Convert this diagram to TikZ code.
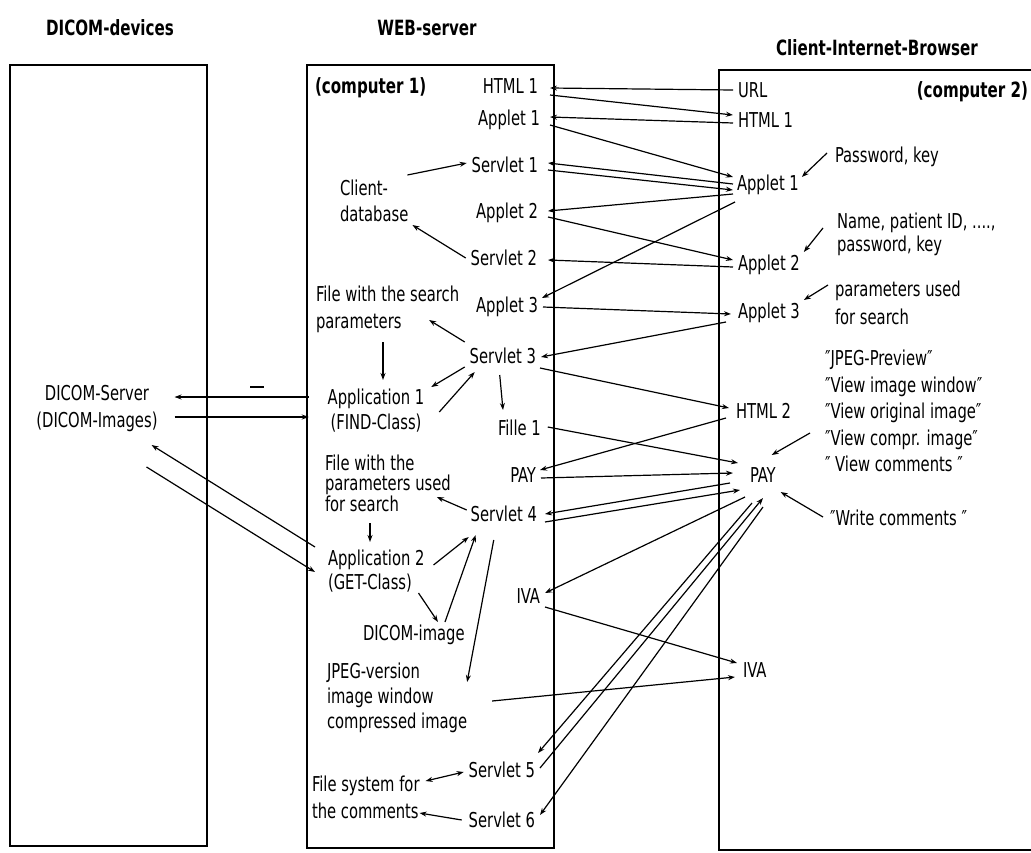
\documentclass[tikz,border=0pt]{standalone}
\usepackage{fontspec}
\setmainfont{DejaVu Sans Condensed}[FakeStretch=0.80, BoldFont={DejaVu Sans Condensed Bold}]
\usetikzlibrary{arrows.meta}

\begin{document}
\begin{tikzpicture}[x=1pt, y=-1pt,
  lbl/.style={inner sep=0pt, outer sep=0pt, font=\fontsize{20.5}{26}\selectfont, text height=14.5pt, text depth=4.5pt},
  blk/.style={inner sep=0pt, outer sep=0pt, align=left},
  ttl/.style={inner sep=0pt, outer sep=0pt, font=\bfseries\fontsize{21}{24}\selectfont},
  arr/.style={-{Stealth[length=7pt,width=5pt]}, line width=1.2pt},
  arrboth/.style={{Stealth[length=7pt,width=5pt]}-{Stealth[length=7pt,width=5pt]}, line width=1.2pt},
  frame/.style={line width=1.6pt}]

\clip (0,0) rectangle (1031,852);
\fill[white] (0,0) rectangle (1031,852);

% the three machines
\draw[frame] (10,65) rectangle (207,846);
\draw[frame] (307,65) rectangle (554,848);
\draw[frame] (1040,70) -- (719,70) -- (719,850) -- (1040,850);

% column titles
\node[ttl] (tdev) at (110,28) {DICOM-devices};
\node[ttl] (tweb) at (427,28) {WEB-server};
\node[ttl] (tcli) at (877,48) {Client-Internet-Browser};
\node[ttl, anchor=west] (comp1) at (315,88) {(computer 1)};
\node[ttl, anchor=east] (comp2) at (1028,92) {(computer 2)};

% DICOM devices
\node[blk, align=center, font=\fontsize{20.5}{27}\selectfont] (dicomsrv) at (97,409) {DICOM-Server\\(DICOM-Images)};

% web server
\node[lbl, anchor=east] (html1m) at (538,88) {HTML 1};
\node[lbl, anchor=east] (applet1m) at (540,120) {Applet 1};
\node[lbl, anchor=east] (servlet1) at (538,167) {Servlet 1};
\node[blk, anchor=west, font=\fontsize{20.5}{26}\selectfont] (clientdb) at (340,201) {Client-\\database};
\node[lbl, anchor=east] (applet2m) at (538,213) {Applet 2};
\node[lbl, anchor=east] (servlet2) at (537,260) {Servlet 2};
\node[blk, anchor=west, font=\fontsize{20.5}{27}\selectfont] (filesearch) at (316,309) {File with the search\\parameters};
\node[lbl, anchor=east] (applet3m) at (538,307) {Applet 3};
\node[lbl, anchor=east] (servlet3) at (536,358) {Servlet 3};
\node[blk, align=center, font=\fontsize{20.5}{25}\selectfont] (app1) at (376,411) {Application 1\\(FIND-Class)};
\node[lbl, anchor=west] (fille1) at (498,430) {Fille 1};
\node[lbl, anchor=east] (paym) at (536,477) {PAY};
\node[blk, anchor=west, font=\fontsize{20.5}{20.5}\selectfont] (fileparams) at (325,483) {File with the\\parameters used\\for search};
\node[lbl, anchor=east] (servlet4) at (537,516) {Servlet 4};
\node[blk, anchor=west, font=\fontsize{20.5}{24}\selectfont] (app2) at (328,571) {Application 2\\(GET-Class)};
\node[lbl, anchor=east] (ivam) at (540,598) {IVA};
\node[lbl, anchor=west] (dicomimg) at (363,635) {DICOM-image};
\node[blk, anchor=west, font=\fontsize{20.5}{25}\selectfont] (jpeg) at (327,698) {JPEG-version\\image window\\compressed image};
\node[lbl, anchor=east] (servlet5) at (535,772) {Servlet 5};
\node[blk, anchor=west, font=\fontsize{20.5}{27}\selectfont] (filesys) at (312,797) {File system for\\the comments};
\node[lbl, anchor=east] (servlet6) at (535,822) {Servlet 6};

% client browser
\node[lbl, anchor=west] (url) at (738,92) {URL};
\node[lbl, anchor=west] (html1r) at (738,122) {HTML 1};
\node[lbl, anchor=west] (applet1r) at (737,185) {Applet 1};
\node[lbl, anchor=west] (applet2r) at (738,265) {Applet 2};
\node[lbl, anchor=west] (applet3r) at (738,313) {Applet 3};
\node[lbl, anchor=west] (html2) at (736,413) {HTML 2};
\node[lbl, anchor=west] (payr) at (750,477) {PAY};
\node[lbl, anchor=west] (ivar) at (743,672) {IVA};
\node[lbl, anchor=west] (pwd) at (835,157) {Password, key};
\node[blk, anchor=west, font=\fontsize{20.5}{23}\selectfont] (nameid) at (837,234) {Name, patient ID, ....,\\password, key};
\node[blk, anchor=west, font=\fontsize{20.5}{28}\selectfont] (params) at (835,303) {parameters used\\for search};
\node[blk, anchor=west, font=\fontsize{20.5}{26.5}\selectfont] (views) at (825,411) {″JPEG-Preview″\\″View image window″\\″View original image″\\″View compr. image″\\″ View comments ″};
\node[lbl, anchor=west] (writec) at (830,520) {″Write comments ″};

% small tick between the DICOM server arrows
\draw[line width=1.2pt] (250,387) -- (264,387);

% server <-> browser traffic
\draw[arr] ([shift={(-5,-2)}]url.west) -- ([shift={(12,0)}]html1m.east);
\draw[arr] ([shift={(12,7)}]html1m.east) -- ([shift={(-5,-7)}]html1r.west);
\draw[arr] ([shift={(-5,1)}]html1r.west) -- ([shift={(10,-3)}]applet1m.east);
\draw[arr] ([shift={(10,5)}]applet1m.east) -- ([shift={(-4,-8)}]applet1r.west);
\draw[arr] ([shift={(-4,-1)}]applet1r.west) -- ([shift={(10,-4)}]servlet1.east);
\draw[arr] ([shift={(10,3)}]servlet1.east) -- ([shift={(-4,5)}]applet1r.west);
\draw[arr] ([shift={(-4,9)}]applet1r.west) -- ([shift={(10,-2)}]applet2m.east);
\draw[arr] ([shift={(10,4)}]applet2m.east) -- ([shift={(-5,-5)}]applet2r.west);
\draw[arr] ([shift={(-5,2)}]applet2r.west) -- ([shift={(11,0)}]servlet2.east);
\draw[arr] ([shift={(-2,17)}]applet1r.west) -- ([shift={(4,-9)}]applet3m.east);
\draw[arr] ([shift={(5,0)}]applet3m.east) -- ([shift={(-7,1)}]applet3r.west);
\draw[arr] ([shift={(-12,9)}]applet3r.west) -- ([shift={(5,-1)}]servlet3.east);
\draw[arr] ([shift={(4,10)}]servlet3.east) -- ([shift={(-7,-5)}]html2.west);
\draw[arr] ([shift={(-10,5)}]html2.west) -- ([shift={(4,-7)}]paym.east);
\draw[arr] ([shift={(7,-3)}]fille1.east) -- ([shift={(-12,-14)}]payr.west);
\draw[arr] ([shift={(5,1)}]paym.east) -- ([shift={(-17,-4)}]payr.west);
\draw[arr] ([shift={(-20,6)}]payr.west) -- ([shift={(8,-2)}]servlet4.east);
\draw[arr] ([shift={(8,6)}]servlet4.east) -- ([shift={(-10,13)}]payr.west);
\draw[arr] ([shift={(-5,20)}]payr.west) -- ([shift={(5,-5)}]ivam.east);
\draw[arr] ([shift={(5,9)}]ivam.east) -- ([shift={(-6,-9)}]ivar.west);
\draw[arr] ([shift={(25,3)}]jpeg.east) -- ([shift={(-8,5)}]ivar.west);
\draw[arr] ([shift={(2,26)}]payr.west) -- ([shift={(3,-19)}]servlet5.east);
\draw[arr] ([shift={(5,-4)}]servlet5.east) -- ([shift={(13,21)}]payr.west);
\draw[arr] ([shift={(13,30)}]payr.west) -- ([shift={(5,-7)}]servlet6.east);

% inside the web server
\draw[arr] ([shift={(-1,-26)}]clientdb.east) -- ([shift={(-5,-4)}]servlet1.west);
\draw[arr] ([shift={(-5,-2)}]servlet2.west) -- ([shift={(4,24)}]clientdb.east);
\draw[arr] ([shift={(-5,-16)}]servlet3.west) -- ([shift={(-30,11)}]filesearch.east);
\draw[arr] ([shift={(67,33)}]filesearch.west) -- ([shift={(7,-31)}]app1.center);
\draw[arr] ([shift={(-5,9)}]servlet3.west) -- ([shift={(7,-24)}]app1.east);
\draw[arr] ([shift={(15,1)}]app1.east) -- ([shift={(5,14)}]servlet3.west);
\draw[arr] ([shift={(30,17)}]servlet3.west) -- ([shift={(5,-20)}]fille1.west);
\draw[arr] ([shift={(-4,-6)}]servlet4.west) -- ([shift={(-14,14)}]fileparams.east);
\draw[arr] ([shift={(45,40)}]fileparams.west) -- ([shift={(42,-29)}]app2.west);
\draw[arr] ([shift={(9,-6)}]app2.east) -- ([shift={(-2,21)}]servlet4.west);
\draw[arr] ([shift={(-6,22)}]app2.east) -- ([shift={(75,-13)}]dicomimg.west);
\draw[arr] ([shift={(82,-13)}]dicomimg.west) -- ([shift={(5,19)}]servlet4.west);
\draw[arr] ([shift={(23,24)}]servlet4.west) -- ([shift={(0,-16)}]jpeg.east);
\draw[arrboth] ([shift={(6,-16)}]filesys.east) -- ([shift={(-5,0)}]servlet5.west);
\draw[arr] ([shift={(-7,-2)}]servlet6.west) -- ([shift={(0,16)}]filesys.east);

% web server <-> DICOM devices
\draw[arr] ([shift={(-19,-14)}]app1.west) -- ([shift={(17,-12)}]dicomsrv.east);
\draw[arr] ([shift={(17,8)}]dicomsrv.east) -- ([shift={(-19,6)}]app1.west);
\draw[arr] ([shift={(-13,-24)}]app2.west) -- ([shift={(-6,36)}]dicomsrv.east);
\draw[arr] ([shift={(-11,58)}]dicomsrv.east) -- ([shift={(-13,1)}]app2.west);

% user inputs in the browser
\draw[arr] ([shift={(-8,-4)}]pwd.west) -- ([shift={(3,-8)}]applet1r.east);
\draw[arr] ([shift={(-14,-6)}]nameid.west) -- ([shift={(4,-13)}]applet2r.east);
\draw[arr] ([shift={(-7,-18)}]params.west) -- ([shift={(4,-13)}]applet3r.east);
\draw[arr] ([shift={(-15,22)}]views.west) -- ([shift={(-4,-22)}]payr.east);
\draw[arr] ([shift={(-7,-3)}]writec.west) -- ([shift={(5,15)}]payr.east);
\end{tikzpicture}
\end{document}
